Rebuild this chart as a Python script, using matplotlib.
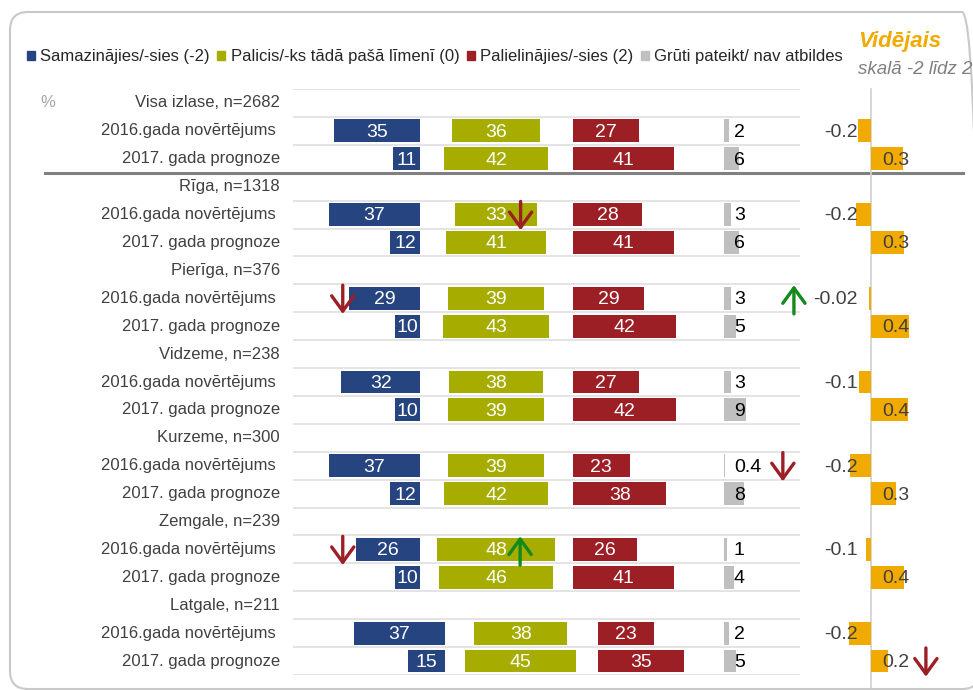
import matplotlib.pyplot as plt
from matplotlib.patches import Patch, FancyBboxPatch
from matplotlib.transforms import blended_transform_factory

plt.rcParams['font.family'] = ['Liberation Sans', 'DejaVu Sans']

# dati
groups = ['Visa izlase, n=2682', 'Rīga, n=1318', 'Pierīga, n=376', 'Vidzeme, n=238',
          'Kurzeme, n=300', 'Zemgale, n=239', 'Latgale, n=211']
periods = ['2016.gada novērtējums ', '2017. gada prognoze']
legend_labels = ['Samazinājies/-sies (-2)', 'Palicis/-ks tādā pašā līmenī (0)',
                 'Palielinājies/-sies (2)', 'Grūti pateikt/ nav atbildes']

# katrai grupai: 2016, 2017
decreased = [35, 11, 37, 12, 29, 10, 32, 10, 37, 12, 26, 10, 37, 15]
same = [36, 42, 33, 41, 39, 43, 38, 39, 39, 42, 48, 46, 38, 45]
increased = [27, 41, 28, 41, 29, 42, 27, 42, 23, 38, 26, 41, 23, 35]
hard = [2, 6, 3, 6, 3, 5, 3, 9, 0.4, 8, 1, 4, 2, 5]
avg_values = [-0.14, 0.36, -0.17, 0.37, -0.02, 0.42, -0.13, 0.41, -0.23, 0.28, -0.06, 0.37, -0.24, 0.19]
avg_shown = [-0.2, 0.3, -0.2, 0.3, -0.02, 0.4, -0.1, 0.4, -0.2, 0.3, -0.1, 0.4, -0.2, 0.2]

# bultas: (grupa, periods, panelis, x, virziens)
changes = [(1, 0, 'main', 40.9, 'down'),
           (2, 0, 'main', -31.4, 'down'),
           (2, 0, 'main', 152.0, 'up'),
           (4, 0, 'main', 147.5, 'down'),
           (5, 0, 'main', -31.4, 'down'),
           (5, 0, 'main', 40.7, 'up'),
           (6, 1, 'avg', 0.61, 'down')]

BLUE = '#264480'
GREEN = '#A6AD00'
RED = '#9C1F25'
GREY = '#BFBFBF'
ORANGE = '#F0AA00'
TEXT = '#404040'

W, H = 973, 690
fig = plt.figure(figsize=(W / 100, H / 100), dpi=100)


def frac(x0, y0, x1, y1):
    return [x0 / W, 1 - y1 / H, (x1 - x0) / W, (y1 - y0) / H]


px = 2.46  # pikseļi uz procentu
ax = fig.add_axes(frac(293, 89, 800, 675))
ax2 = fig.add_axes(frac(800, 89, 973, 675))
ax.set_xlim((293 - 420) / px, (800 - 420) / px)
ax2.set_xlim(-71 / 90, 102 / 90)
for a in (ax, ax2):
    a.set_ylim(20.5, -0.5)
    a.axis('off')

# rāmis
box = FancyBboxPatch((0.10, 0.01), 9.70, 6.77, boxstyle='round,pad=0,rounding_size=0.18',
                     transform=fig.dpi_scale_trans, fill=False, ec='#C9C9C9', lw=1.5)
fig.add_artist(box)

# horizontālās līnijas
for b in range(22):
    ax.axhline(b - 0.5, color='#DCDCDC', lw=1.1, zorder=0)
tr = blended_transform_factory(fig.transFigure, ax.transData)
ax.plot([45 / W, 963 / W], [2.5, 2.5], transform=tr, color='#808080', lw=2.2, clip_on=False, zorder=3)
ax2.plot([0, 0], [-0.5, 21.1], color='#D0D0D0', lw=1.2, clip_on=False, zorder=0)

shift = [0, 0, 0, 0, 0, 0, 10]
bh = 0.82
for g, name in enumerate(groups):
    ax.text((280 - 420) / px, 3 * g, name, ha='right', va='center', fontsize=12, color=TEXT)
    for p in range(2):
        k = 2 * g + p
        row = 3 * g + 1 + p
        s = shift[g]
        ax.text((280 - 420) / px, row, periods[p], ha='right', va='center', fontsize=12, color=TEXT)

        ax.barh(row, decreased[k], left=s - decreased[k], height=bh, color=BLUE)
        ax.text(s - decreased[k] / 2, row + 0.05, str(decreased[k]), ha='center', va='center',
                fontsize=14, color='white')
        ax.barh(row, same[k], left=s + 30.9 - same[k] / 2, height=bh, color=GREEN)
        ax.text(s + 30.9, row + 0.05, str(same[k]), ha='center', va='center', fontsize=14, color='white')
        ax.barh(row, increased[k], left=s + 62.2, height=bh, color=RED)
        ax.text(s + 62.2 + increased[k] / 2, row + 0.05, str(increased[k]), ha='center', va='center',
                fontsize=14, color='white')
        ax.barh(row, hard[k], left=123.6, height=bh, color=GREY)
        ax.text(127.6, row + 0.05, f'{hard[k]:g}', ha='left', va='center', fontsize=14, color='black')

        ax2.barh(row, avg_values[k], left=0, height=bh, color=ORANGE)
        if avg_shown[k] < 0:
            ax2.text(-0.144, row + 0.05, f'{avg_shown[k]:g}', ha='right', va='center', fontsize=14, color=TEXT)
        else:
            ax2.text(0.122, row + 0.05, f'{avg_shown[k]:g}', ha='left', va='center', fontsize=14, color=TEXT)

for g, p, panel, x, d in changes:
    row = 3 * g + 1 + p
    a = ax if panel == 'main' else ax2
    col = RED if d == 'down' else '#128A1E'
    top, bottom = row - 0.47, row + 0.56
    tip, tail = (bottom, top) if d == 'down' else (top, bottom)
    a.annotate('', xy=(x, tip), xytext=(x, tail),
               arrowprops=dict(arrowstyle='->,head_length=0.55,head_width=0.4', color=col, lw=2.4,
                               shrinkA=0, shrinkB=0, mutation_scale=20), annotation_clip=False)

ax.text((40 - 420) / px, 0, '%', ha='left', va='center', fontsize=12, color='#A6A6A6')

handles = [Patch(color=c) for c in (BLUE, GREEN, RED, GREY)]
fig.legend(handles, legend_labels, loc='center left', bbox_to_anchor=(27 / W, 1 - 57 / H),
           ncol=4, handlelength=0.45, handleheight=0.45, handletextpad=0.35, columnspacing=0.45,
           borderpad=0, borderaxespad=0, frameon=False, fontsize=12, labelcolor='#262626')

fig.text(858 / W, 1 - 42 / H, 'Vidējais', ha='left', va='center', fontsize=16, color=ORANGE,
         fontweight='bold', fontstyle='italic')
fig.text(858 / W, 1 - 69 / H, 'skalā -2 līdz 2', ha='left', va='center', fontsize=13.5, color='#808080',
         fontstyle='italic')

fig.savefig('out.png', dpi=100)
